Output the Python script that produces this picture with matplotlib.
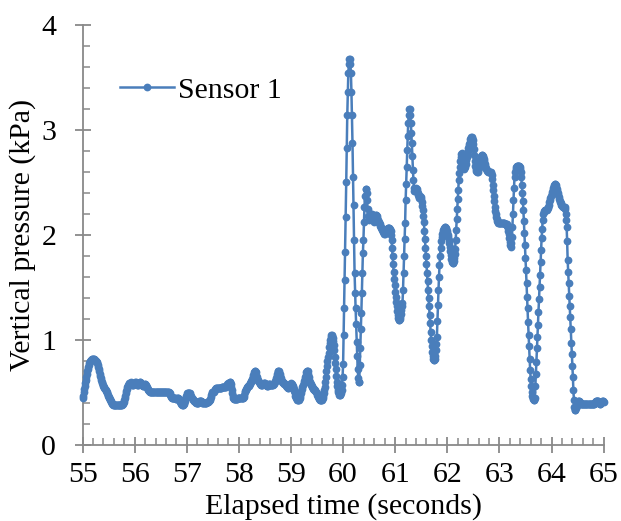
import numpy as np
import matplotlib
matplotlib.use("Agg")
import matplotlib.pyplot as plt
from matplotlib.ticker import MultipleLocator

# Sensor 1 vertical pressure (kPa), sampled every 0.01 s from 55.00 s to 65.00 s
t_start = 55.0
dt = 0.01

p55 = [0.45,0.47,0.50,0.53,0.56,0.59,0.62,0.65,0.68,0.70,
       0.72,0.74,0.76,0.78,0.79,0.80,0.81,0.81,0.82,0.82,
       0.82,0.82,0.82,0.81,0.81,0.80,0.80,0.79,0.78,0.76,
       0.74,0.72,0.70,0.68,0.66,0.64,0.62,0.60,0.59,0.57,
       0.56,0.55,0.54,0.53,0.52,0.51,0.50,0.49,0.48,0.47,
       0.46,0.45,0.44,0.43,0.42,0.41,0.40,0.39,0.39,0.38,
       0.38,0.38,0.38,0.38,0.38,0.38,0.38,0.38,0.38,0.38,
       0.38,0.38,0.38,0.38,0.38,0.38,0.39,0.39,0.40,0.41,
       0.43,0.45,0.47,0.49,0.51,0.53,0.55,0.56,0.57,0.58,
       0.59,0.59,0.60,0.59,0.58,0.57,0.57,0.57,0.58,0.58]
p56 = [0.59,0.60,0.60,0.59,0.58,0.57,0.57,0.57,0.58,0.59,
       0.60,0.60,0.59,0.58,0.57,0.56,0.56,0.56,0.57,0.58,
       0.58,0.57,0.56,0.55,0.54,0.53,0.52,0.51,0.51,0.50,
       0.50,0.50,0.50,0.50,0.50,0.50,0.50,0.50,0.50,0.50,
       0.50,0.50,0.50,0.50,0.50,0.50,0.50,0.50,0.50,0.50,
       0.50,0.50,0.50,0.50,0.50,0.50,0.50,0.50,0.50,0.50,
       0.50,0.50,0.50,0.50,0.50,0.50,0.49,0.49,0.48,0.47,
       0.46,0.45,0.45,0.45,0.45,0.45,0.45,0.45,0.45,0.44,
       0.44,0.44,0.45,0.45,0.45,0.44,0.43,0.41,0.40,0.39,
       0.39,0.38,0.38,0.38,0.39,0.40,0.42,0.44,0.46,0.47]
p57 = [0.48,0.49,0.49,0.49,0.49,0.49,0.49,0.48,0.47,0.46,
       0.45,0.44,0.43,0.42,0.42,0.42,0.41,0.41,0.40,0.40,
       0.40,0.40,0.40,0.41,0.42,0.42,0.42,0.42,0.42,0.41,
       0.40,0.40,0.40,0.40,0.40,0.40,0.40,0.40,0.41,0.41,
       0.41,0.41,0.42,0.42,0.43,0.44,0.46,0.48,0.49,0.50,
       0.50,0.50,0.50,0.51,0.52,0.53,0.54,0.54,0.54,0.54,
       0.54,0.54,0.54,0.54,0.54,0.54,0.54,0.55,0.55,0.55,
       0.55,0.55,0.55,0.55,0.55,0.55,0.56,0.57,0.58,0.58,
       0.59,0.59,0.60,0.60,0.58,0.55,0.52,0.49,0.47,0.45,
       0.44,0.44,0.44,0.44,0.44,0.44,0.44,0.44,0.45,0.45]
p58 = [0.45,0.45,0.45,0.45,0.45,0.45,0.45,0.45,0.45,0.46,
       0.48,0.50,0.51,0.52,0.53,0.54,0.55,0.56,0.56,0.56,
       0.57,0.58,0.59,0.60,0.61,0.62,0.63,0.65,0.67,0.69,
       0.70,0.70,0.69,0.67,0.65,0.63,0.62,0.61,0.60,0.60,
       0.59,0.58,0.57,0.57,0.57,0.57,0.58,0.58,0.59,0.59,
       0.59,0.58,0.57,0.56,0.56,0.56,0.57,0.58,0.58,0.58,
       0.57,0.57,0.57,0.57,0.57,0.57,0.58,0.58,0.59,0.60,
       0.61,0.62,0.64,0.66,0.68,0.70,0.70,0.70,0.68,0.66,
       0.64,0.62,0.61,0.60,0.60,0.59,0.59,0.58,0.58,0.58,
       0.57,0.56,0.55,0.55,0.54,0.54,0.55,0.56,0.57,0.58]
p59 = [0.59,0.58,0.57,0.56,0.55,0.53,0.51,0.49,0.47,0.46,
       0.45,0.44,0.43,0.43,0.43,0.43,0.44,0.45,0.47,0.49,
       0.51,0.53,0.55,0.57,0.59,0.61,0.63,0.65,0.67,0.69,
       0.70,0.70,0.70,0.68,0.65,0.62,0.60,0.59,0.58,0.57,
       0.56,0.55,0.54,0.53,0.53,0.52,0.52,0.51,0.50,0.49,
       0.48,0.47,0.46,0.45,0.44,0.43,0.43,0.43,0.43,0.43,
       0.44,0.45,0.47,0.49,0.52,0.55,0.60,0.65,0.70,0.75,
       0.80,0.84,0.88,0.93,0.97,1.00,1.03,1.05,1.05,1.04,
       1.02,0.99,0.95,0.90,0.84,0.78,0.72,0.66,0.60,0.56,
       0.52,0.50,0.49,0.48,0.48,0.48,0.49,0.52,0.57,0.65]
p60 = [0.77,1.05,1.30,1.57,1.84,2.17,2.50,2.83,3.14,3.36,
       3.54,3.63,3.68,3.68,3.63,3.54,3.36,3.14,2.88,2.55,
       2.29,1.95,1.64,1.45,1.30,1.15,0.98,0.85,0.72,0.64,
       0.60,0.60,0.76,0.92,1.10,1.26,1.45,1.64,1.83,1.95,
       2.12,2.27,2.37,2.44,2.44,2.40,2.33,2.25,2.18,2.15,
       2.14,2.15,2.17,2.19,2.20,2.20,2.19,2.17,2.15,2.13,
       2.12,2.14,2.17,2.19,2.19,2.18,2.16,2.14,2.12,2.11,
       2.10,2.09,2.08,2.07,2.06,2.05,2.04,2.03,2.02,2.01,
       2.01,2.02,2.03,2.04,2.05,2.06,2.07,2.07,2.07,2.07,
       2.06,2.04,2.00,1.95,1.88,1.80,1.72,1.65,1.58,1.52]
p61 = [1.46,1.41,1.36,1.32,1.28,1.24,1.21,1.19,1.19,1.20,
       1.22,1.25,1.29,1.32,1.35,1.48,1.64,1.80,1.96,2.11,
       2.33,2.49,2.65,2.81,2.94,3.07,3.14,3.20,3.20,3.14,
       3.07,2.97,2.88,2.75,2.62,2.52,2.45,2.42,2.42,2.44,
       2.45,2.44,2.42,2.40,2.38,2.36,2.35,2.36,2.37,2.36,
       2.34,2.31,2.28,2.24,2.18,2.12,2.04,1.96,1.88,1.80,
       1.72,1.64,1.56,1.48,1.40,1.32,1.24,1.16,1.08,1.00,
       0.94,0.89,0.85,0.82,0.81,0.81,0.82,0.85,0.90,0.96,
       1.03,1.18,1.33,1.48,1.60,1.71,1.80,1.88,1.94,1.98,
       2.01,2.03,2.05,2.06,2.07,2.08,2.08,2.07,2.06,2.04]
p62 = [2.02,2.00,1.98,1.95,1.92,1.89,1.85,1.81,1.77,1.74,
       1.73,1.73,1.75,1.78,1.82,1.87,1.95,2.05,2.15,2.25,
       2.34,2.43,2.52,2.59,2.65,2.70,2.74,2.77,2.78,2.76,
       2.72,2.67,2.64,2.63,2.65,2.68,2.71,2.74,2.77,2.80,
       2.83,2.85,2.87,2.89,2.91,2.92,2.93,2.93,2.92,2.90,
       2.87,2.82,2.76,2.70,2.66,2.63,2.61,2.60,2.60,2.62,
       2.64,2.67,2.70,2.72,2.74,2.75,2.76,2.76,2.75,2.74,
       2.72,2.70,2.68,2.66,2.64,2.63,2.62,2.61,2.61,2.60,
       2.60,2.60,2.60,2.60,2.59,2.57,2.53,2.48,2.43,2.37,
       2.32,2.27,2.23,2.20,2.17,2.15,2.13,2.12,2.11,2.11]
p63 = [2.11,2.11,2.11,2.11,2.11,2.11,2.11,2.11,2.11,2.11,
       2.10,2.10,2.10,2.10,2.10,2.09,2.07,2.04,2.01,1.97,
       1.93,1.90,1.89,1.92,1.98,2.08,2.20,2.33,2.45,2.55,
       2.60,2.63,2.65,2.66,2.66,2.66,2.66,2.66,2.66,2.65,
       2.63,2.60,2.55,2.48,2.40,2.32,2.24,2.13,2.02,1.90,
       1.78,1.67,1.54,1.41,1.30,1.17,1.05,0.94,0.82,0.71,
       0.63,0.56,0.50,0.47,0.45,0.44,0.43,0.43,0.45,0.56,
       0.68,0.79,0.92,1.03,1.14,1.27,1.39,1.50,1.62,1.74,
       1.86,1.97,2.06,2.14,2.20,2.22,2.23,2.24,2.24,2.24,
       2.24,2.24,2.25,2.26,2.27,2.29,2.31,2.33,2.35,2.37]
p64 = [2.39,2.41,2.43,2.45,2.47,2.48,2.49,2.49,2.48,2.46,
       2.44,2.42,2.40,2.38,2.36,2.34,2.32,2.31,2.30,2.29,
       2.28,2.28,2.27,2.27,2.27,2.27,2.25,2.20,2.14,2.08,
       1.94,1.76,1.65,1.54,1.42,1.32,1.22,1.10,0.97,0.87,
       0.75,0.65,0.52,0.43,0.36,0.33,0.33,0.35,0.37,0.39,
       0.41,0.42,0.42,0.42,0.41,0.40,0.39,0.39,0.39,0.39,
       0.39,0.39,0.39,0.39,0.39,0.39,0.39,0.39,0.39,0.39,
       0.39,0.39,0.39,0.39,0.39,0.39,0.39,0.39,0.39,0.39,
       0.39,0.39,0.39,0.40,0.41,0.42,0.42,0.42,0.42,0.42,
       0.42,0.41,0.40,0.39,0.39,0.40,0.41,0.42,0.42,0.42]
p65 = [0.41]

pressure = np.array(p55 + p56 + p57 + p58 + p59 + p60 + p61 + p62 + p63 + p64 + p65)
time = t_start + dt * np.arange(len(pressure))

x_ticks = [55, 56, 57, 58, 59, 60, 61, 62, 63, 64, 65]
y_ticks = [0, 1, 2, 3, 4]
series_name = "Sensor 1"

plt.rcParams['font.family'] = ['Liberation Serif', 'DejaVu Serif']

fig = plt.figure(figsize=(6.21, 5.21), dpi=100)
ax = fig.add_axes([0.133, 0.146, 0.839, 0.806])

blue = '#4A7EBB'
ax.plot(time, pressure, color=blue, lw=1.8, marker='o', markersize=5.6,
        markeredgewidth=0, label=series_name, clip_on=False, zorder=3)

ax.set_xlim(55, 65)
ax.set_ylim(0, 4)
ax.set_xticks(x_ticks)
ax.set_yticks(y_ticks)
ax.xaxis.set_minor_locator(MultipleLocator(0.2))
ax.yaxis.set_minor_locator(MultipleLocator(0.2))

gray = '#898989'
for s in ['top', 'right']:
    ax.spines[s].set_visible(False)
for s in ['left', 'bottom']:
    ax.spines[s].set_color(gray)
    ax.spines[s].set_linewidth(1.3)

ax.tick_params(which='major', direction='inout', length=12, width=1.3,
               color=gray, labelsize=21.5, labelcolor='black')
ax.tick_params(axis='y', which='major', pad=13)
ax.tick_params(axis='x', which='major', pad=6)
ax.tick_params(which='minor', direction='in', length=5, width=1.1, color=gray)

ax.set_xlabel('Elapsed time (seconds)', fontsize=21.5, labelpad=4)
ax.set_ylabel('Vertical pressure (kPa)', fontsize=21.5, labelpad=4)

leg = ax.legend(loc='center left', bbox_to_anchor=(0.072, 0.845), frameon=False,
                fontsize=21.5, borderpad=0, borderaxespad=0, handlelength=1.8,
                handletextpad=0.15)

fig.savefig('out.png', dpi=100)
